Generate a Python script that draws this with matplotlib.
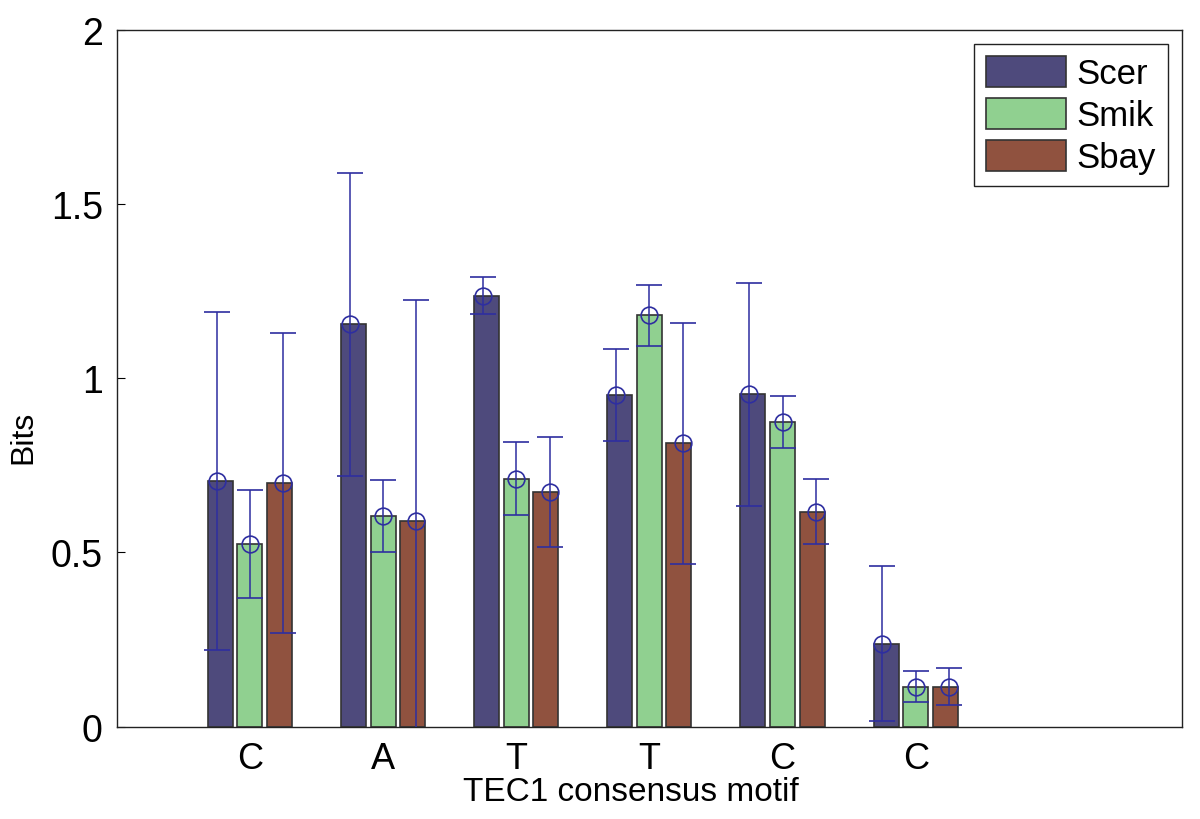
import numpy as np
import matplotlib
matplotlib.use("Agg")
import matplotlib.pyplot as plt

# data
motif = ["C", "A", "T", "T", "C", "C"]
species = ["Scer", "Smik", "Sbay"]
scer = [0.705, 1.155, 1.237, 0.952, 0.954, 0.238]
smik = [0.525, 0.605, 0.712, 1.180, 0.875, 0.115]
sbay = [0.700, 0.590, 0.673, 0.813, 0.617, 0.115]
scer_err = [0.485, 0.435, 0.053, 0.133, 0.320, 0.223]
smik_err = [0.155, 0.104, 0.105, 0.087, 0.074, 0.045]
sbay_err = [0.430, 0.633, 0.158, 0.345, 0.094, 0.053]

colors = ["#4e4a7c", "#90d090", "#90523f"]
err_color = "#2e2ea0"

plt.rcParams['font.family'] = ['Liberation Sans', 'DejaVu Sans']

fig = plt.figure(figsize=(12, 8.2), dpi=100)
ax = fig.add_axes([0.0973, 0.1126, 0.8877, 0.85])

x = np.arange(1, len(motif) + 1)
bar_off = [-0.222, 0.0, 0.222]
err_off = [-0.25, 0.0, 0.25]
width = 0.188

for vals, errs, c, bo, eo, name in zip([scer, smik, sbay], [scer_err, smik_err, sbay_err],
                                       colors, bar_off, err_off, species):
    ax.bar(x + bo, vals, width, color=c, edgecolor="#333333", linewidth=1.2, label=name, zorder=2)
    ax.errorbar(x + eo, vals, yerr=errs, fmt="o", mfc="none", mec=err_color, ms=12,
                mew=1.2, ecolor=err_color, elinewidth=1.1, capsize=9.5, capthick=1.1, zorder=3)

ax.set_xlim(0, 8)
ax.set_ylim(0, 2)
ax.set_xticks(x)
ax.set_xticklabels(motif, fontsize=26)
ax.set_yticks([0, 0.5, 1, 1.5, 2])
ax.set_yticklabels(["0", "0.5", "1", "1.5", "2"], fontsize=27)
ax.tick_params(axis="both", direction="in", length=6, width=0.8, pad=10)
ax.tick_params(axis="x", length=0)
ax.set_xlabel("TEC1 consensus motif", fontsize=24)
ax.xaxis.set_label_coords(0.483, -0.071)
ax.set_ylabel("Bits", fontsize=23)
ax.yaxis.set_label_coords(-0.074, 0.416)
for s in ax.spines.values():
    s.set_linewidth(1.0)
    s.set_color("#222222")

leg = ax.legend(loc="upper right", fontsize=25, handlelength=2.3, handleheight=1.0,
                borderaxespad=0.4, fancybox=False, framealpha=1, edgecolor="#222222",
                handletextpad=0.3, labelspacing=0.22, borderpad=0.35)
leg.get_frame().set_linewidth(1.0)

fig.savefig("out.png", dpi=100)
